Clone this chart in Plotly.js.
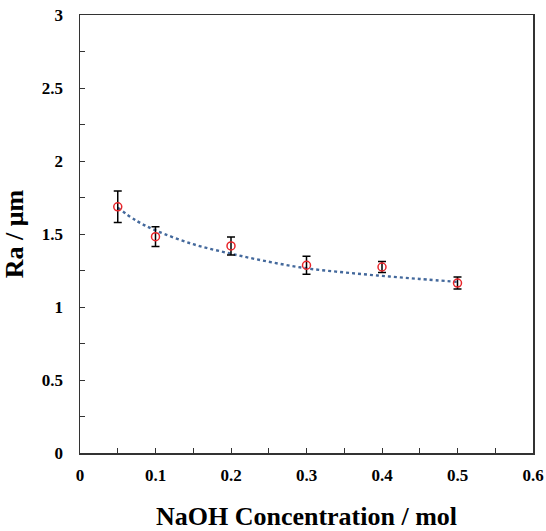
<!DOCTYPE html>
<html>
<head>
<meta charset="utf-8">
<script src="https://cdn.plot.ly/plotly-3.0.1.min.js"></script>
<style>
  html, body { margin: 0; padding: 0; background: #fff; }
  #chart { width: 546px; height: 531px; }
</style>
</head>
<body>
<div id="chart"></div>
<script>
// Measured data
const naohConc = [0.05, 0.1, 0.2, 0.3, 0.4, 0.5];
const raValues = [1.686, 1.482, 1.418, 1.286, 1.274, 1.164];
const raErrors = [0.108, 0.068, 0.062, 0.062, 0.038, 0.041];

// Trend line
const trendX = [0.05, 0.075, 0.1, 0.15, 0.2, 0.25, 0.3, 0.35, 0.4, 0.45, 0.5];
const trendY = [1.68, 1.59, 1.525, 1.43, 1.365, 1.31, 1.265, 1.237, 1.213, 1.192, 1.172];

// Tick labels
const xTickVals = [0, 0.1, 0.2, 0.3, 0.4, 0.5, 0.6];
const xTickText = ['0', '0.1', '0.2', '0.3', '0.4', '0.5', '0.6'];
const yTickVals = [0, 0.5, 1, 1.5, 2, 2.5, 3];
const yTickText = ['0', '0.5', '1', '1.5', '2', '2.5', '3'];

const serif = "'Liberation Serif', 'Times New Roman', serif";

const traces = [
  {
    x: trendX, y: trendY,
    type: 'scatter', mode: 'lines',
    line: { color: '#44699c', width: 2.4, dash: 'dot', shape: 'spline' },
    hoverinfo: 'skip', showlegend: false
  },
  {
    x: naohConc, y: raValues,
    type: 'scatter', mode: 'markers',
    marker: { symbol: 'circle-open', size: 8, color: '#e8262b', line: { width: 1.5, color: '#e8262b' } },
    error_y: { type: 'data', array: raErrors, visible: true, color: '#000', thickness: 1.5, width: 4 },
    showlegend: false
  }
];

const axisCommon = {
  showgrid: false, zeroline: false,
  showline: true, linecolor: '#333', linewidth: 1.5, mirror: true,
  ticks: 'inside', ticklen: 5, tickwidth: 1, tickcolor: '#333',
  tickfont: { family: serif, size: 17, color: '#000', weight: 'bold' }
};

const layout = {
  width: 546, height: 531,
  margin: { l: 80, r: 13, t: 15, b: 78 },
  paper_bgcolor: '#fff', plot_bgcolor: '#fff',
  xaxis: Object.assign({}, axisCommon, {
    range: [0, 0.6], tickmode: 'array', tickvals: xTickVals, ticktext: xTickText,
    minor: { dtick: 0.05, ticks: 'inside', ticklen: 5, tickcolor: '#333', tickwidth: 1 },
    ticklabelstandoff: 6,
    title: { text: 'NaOH Concentration / mol', font: { family: serif, size: 26, color: '#000', weight: 'bold' }, standoff: 27 }
  }),
  yaxis: Object.assign({}, axisCommon, {
    range: [0, 3], tickmode: 'array', tickvals: yTickVals, ticktext: yTickText,
    minor: { dtick: 0.25, ticks: 'inside', ticklen: 5, tickcolor: '#333', tickwidth: 1 },
    ticklabelstandoff: 12,
    title: { text: 'Ra / μm', font: { family: serif, size: 26, color: '#000', weight: 'bold' }, standoff: 14 }
  })
};

Plotly.newPlot('chart', traces, layout, { displayModeBar: false, staticPlot: true });
</script>
</body>
</html>
